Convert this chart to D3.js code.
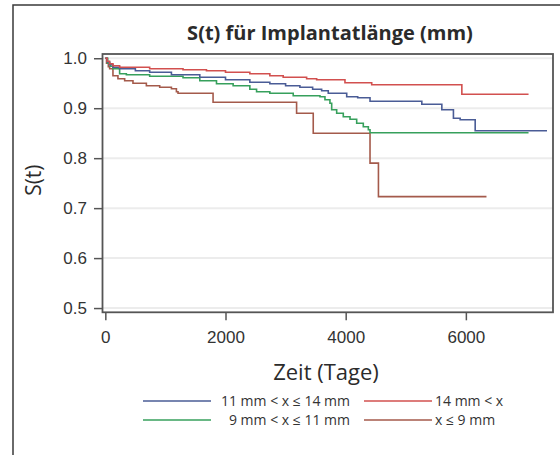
<!DOCTYPE html>
<html>
<head>
<meta charset="utf-8">
<script src="https://cdn.jsdelivr.net/npm/d3@7"></script>
<style>
  body { margin: 0; background: #fff; }
  svg { display: block; font-family: "Open Sans", "Noto Sans", sans-serif; }
</style>
</head>
<body>
<script>
const width = 560;
const height = 455;
const marginLeft = 102.5;
const marginRight = 7;
const marginTop = 54;
const marginBottom = 142.7;

// groups as in the legend
const groups = ['11 mm < x ≤ 14 mm', '14 mm < x', '9 mm < x ≤ 11 mm', 'x ≤ 9 mm'];
const colors = ['#4a5c96', '#d2504f', '#37a05c', '#a45a4b'];

// Kaplan-Meier steps (time in days, survival)
const tBlue = [0, 30, 70, 127, 238, 500, 738, 1100, 1572, 2000, 2405, 2738, 3000, 3238, 3450, 3600, 3710, 4017, 4200, 4405, 5267, 5600, 5793, 5905, 6155, 7350];
const sBlue = [1.0, 0.993, 0.987, 0.982, 0.979, 0.975, 0.972, 0.967, 0.962, 0.957, 0.952, 0.949, 0.945, 0.942, 0.938, 0.935, 0.930, 0.923, 0.921, 0.914, 0.908, 0.897, 0.880, 0.877, 0.855, 0.855];

const tRed = [0, 30, 70, 127, 238, 738, 1293, 1683, 2000, 2405, 2738, 2960, 3350, 3517, 3988, 4433, 5933, 7043];
const sRed = [1.0, 0.994, 0.989, 0.985, 0.982, 0.979, 0.977, 0.975, 0.972, 0.969, 0.965, 0.962, 0.959, 0.957, 0.951, 0.947, 0.928, 0.928];

const tGreen = [0, 40, 80, 127, 238, 350, 738, 1293, 1572, 1850, 2127, 2405, 2517, 2738, 3127, 3572, 3655, 3738, 3767, 3850, 3960, 4072, 4183, 4293, 4377, 4405, 7043];
const sGreen = [1.0, 0.99, 0.984, 0.979, 0.969, 0.967, 0.964, 0.961, 0.955, 0.949, 0.945, 0.938, 0.933, 0.930, 0.925, 0.923, 0.917, 0.910, 0.897, 0.890, 0.883, 0.878, 0.870, 0.863, 0.857, 0.851, 0.851];

const tBrown = [0, 20, 50, 72, 127, 210, 322, 460, 683, 905, 1100, 1183, 1210, 1793, 3183, 3460, 4405, 4545, 6343];
const sBrown = [1.0, 0.99, 0.983, 0.979, 0.965, 0.959, 0.955, 0.950, 0.945, 0.942, 0.939, 0.933, 0.930, 0.912, 0.890, 0.850, 0.790, 0.723, 0.723];

const xTicks = [0, 2000, 4000, 6000];
const yTicks = [0.5, 0.6, 0.7, 0.8, 0.9, 1.0];

const title = 'S(t) für Implantatlänge (mm)';
const xLabel = 'Zeit (Tage)';
const yLabel = 'S(t)';

const series = [
  { t: tBlue, s: sBlue },
  { t: tRed, s: sRed },
  { t: tGreen, s: sGreen },
  { t: tBrown, s: sBrown }
];

const svg = d3.select('body')
  .append('svg')
  .attr('width', width)
  .attr('height', height)
  .attr('viewBox', [0, 0, width, height]);

// outer panel border
svg.append('rect')
  .attr('x', 13).attr('y', 5)
  .attr('width', 700).attr('height', 600)
  .attr('fill', 'none')
  .attr('stroke', '#3a3a3a')
  .attr('stroke-width', 1.5);

const xScale = d3.scaleLinear([-47, 7450], [marginLeft, width - marginRight]);
const yScale = d3.scaleLinear([0.4915, 1.0085], [height - marginBottom, marginTop]);

// grid
svg.append('g')
  .selectAll('line')
  .data(yTicks)
  .join('line')
  .attr('x1', marginLeft)
  .attr('x2', width - marginRight)
  .attr('y1', d => yScale(d))
  .attr('y2', d => yScale(d))
  .attr('stroke', '#ececec')
  .attr('stroke-width', 2);

function generatePath(d, color) {
  const line = d3.line()
    .curve(d3.curveStepAfter)
    .x(i => xScale(d.t[i]))
    .y(i => yScale(d.s[i]));

  return svg.append('path')
    .attr('fill', 'none')
    .attr('stroke', color)
    .attr('stroke-width', 1.6)
    .attr('d', line(d3.range(d.t.length)));
}

// draw red and blue on top like in the picture
[3, 2, 0, 1].forEach(k => generatePath(series[k], colors[k]));

// plot frame
svg.append('rect')
  .attr('x', marginLeft)
  .attr('y', marginTop)
  .attr('width', width - marginRight - marginLeft)
  .attr('height', height - marginBottom - marginTop)
  .attr('fill', 'none')
  .attr('stroke', '#555')
  .attr('stroke-width', 1.8);

const xAxis = d3.axisBottom(xScale).tickValues(xTicks).tickFormat(d3.format('d')).tickSize(8).tickPadding(11);
const yAxis = d3.axisLeft(yScale).tickValues(yTicks).tickFormat(d3.format('.1f')).tickSize(8.5).tickPadding(7);

const gx = svg.append('g')
  .attr('transform', `translate(0,${height - marginBottom})`)
  .call(xAxis);

const gy = svg.append('g')
  .attr('transform', `translate(${marginLeft},0)`)
  .call(yAxis);

[gx, gy].forEach(g => {
  g.select('.domain').remove();
  g.selectAll('.tick line').attr('stroke', '#555').attr('stroke-width', 1.5);
  g.selectAll('.tick text').attr('fill', '#333').style('font-size', '17px');
});

svg.append('text')
  .attr('x', 330)
  .attr('y', 40)
  .attr('text-anchor', 'middle')
  .attr('fill', '#2b2b2b')
  .style('font-size', '20px')
  .style('font-weight', 'bold')
  .text(title);

svg.append('text')
  .attr('x', 326)
  .attr('y', 380)
  .attr('text-anchor', 'middle')
  .attr('fill', '#2b2b2b')
  .style('font-size', '22px')
  .text(xLabel);

svg.append('text')
  .attr('transform', `translate(41,${(marginTop + height - marginBottom) / 2 - 3}) rotate(-90)`)
  .attr('text-anchor', 'middle')
  .attr('fill', '#2b2b2b')
  .style('font-size', '21px')
  .text(yLabel);

// legend: two columns, two rows
const legendX = [143, 364];
const legendY = [401, 420];
const legend = svg.append('g');
groups.forEach((name, k) => {
  const col = k % 2;
  const row = Math.floor(k / 2);
  const x0 = legendX[col];
  const y0 = legendY[row];
  legend.append('line')
    .attr('x1', x0).attr('x2', x0 + 68)
    .attr('y1', y0).attr('y2', y0)
    .attr('stroke', colors[k])
    .attr('stroke-width', 1.6);
  legend.append('text')
    .attr('x', col === 0 ? 350 : x0 + 71)
    .attr('y', y0)
    .attr('dy', '0.35em')
    .attr('text-anchor', col === 0 ? 'end' : 'start')
    .attr('fill', '#333')
    .style('font-size', '14px')
    .text(name);
});
</script>
</body>
</html>
